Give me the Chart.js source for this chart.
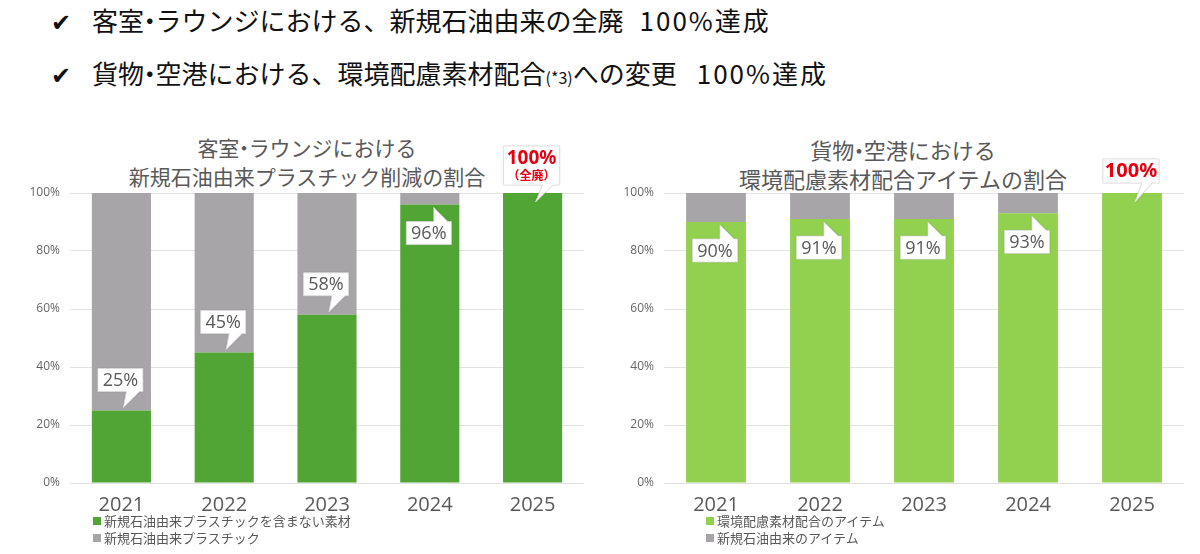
<!DOCTYPE html>
<html><head><meta charset="utf-8">
<script src="https://cdn.jsdelivr.net/npm/chart.js@4"></script>
<style>
html,body{margin:0;padding:0;background:#fff;width:1200px;height:554px;overflow:hidden;font-family:"Noto Sans CJK JP","Noto Sans",sans-serif;}
.hdr{position:absolute;left:51px;font-size:26px;font-weight:400;color:#111;white-space:nowrap;line-height:32px;}
.hdr .ck{display:inline-block;width:41px;font-family:"DejaVu Sans";font-size:24px;font-weight:bold;}
.hdr .sm{font-size:16px;}
.hdr .big{margin-left:16px;letter-spacing:2px;}
.dot{margin-left:-0.28em;margin-right:-0.28em;}
.ttl{position:absolute;text-align:center;color:#595959;font-size:21px;line-height:29px;white-space:nowrap;}
.lg{position:absolute;font-size:13px;color:#595959;line-height:17px;white-space:nowrap;}
.lg span.sq{display:inline-block;width:8px;height:8px;margin-right:3px;vertical-align:1px;}
.cv{position:absolute;}
</style></head>
<body>
<div class="hdr" style="top:4px"><span class="ck">✔</span>客室<span class="dot">・</span>ラウンジにおける、新規石油由来の全廃<span class="big">100%達成</span></div>
<div class="hdr" style="top:57px"><span class="ck">✔</span>貨物<span class="dot">・</span>空港における、環境配慮素材配合<span class="sm">(*3)</span>への変更<span class="big" style="margin-left:20px">100%達成</span></div>

<div class="ttl" style="left:107px;width:400px;top:133px">客室<span class="dot">・</span>ラウンジにおける<br>新規石油由来プラスチック削減の割合</div>
<div class="ttl" style="left:703px;width:400px;top:135px;font-size:22px">貨物<span class="dot">・</span>空港における<br>環境配慮素材配合アイテムの割合</div>

<div class="cv" style="left:0;top:130px;width:600px;height:385px"><canvas id="c1"></canvas></div>
<div class="cv" style="left:600px;top:130px;width:600px;height:385px"><canvas id="c2"></canvas></div>

<div class="lg" id="lg1" style="left:93px;top:512px"></div>
<div class="lg" id="lg2" style="left:706px;top:512px"></div>

<script>
const years = ['2021','2022','2023','2024','2025'];
const yTicks = [0,20,40,60,80,100];

const leftSeriesNames = ['新規石油由来プラスチックを含まない素材','新規石油由来プラスチック'];
const leftFree = [25,45,58,96,100];
const leftPlastic = [75,55,42,4,0];

const rightSeriesNames = ['環境配慮素材配合のアイテム','新規石油由来のアイテム'];
const rightEco = [90,91,91,93,100];
const rightPlastic = [10,9,9,7,0];

const leftColors = ['#50a534','#a7a5a7'];
const rightColors = ['#92d050','#a7a5a7'];

const leftCallouts = [
  {index:0,mode:'above'},{index:1,mode:'above'},{index:2,mode:'above'},
  {index:3,mode:'below'},{index:4,mode:'final',sub:'（全廃）'}
];
const rightCallouts = [
  {index:0,mode:'below'},{index:1,mode:'below'},{index:2,mode:'below'},
  {index:3,mode:'below'},{index:4,mode:'final'}
];

const calloutPlugin = {
  id:'callouts',
  afterDatasetsDraw(chart, args, opts){
    const ctx = chart.ctx;
    const meta = chart.getDatasetMeta(0);
    const ys = chart.scales.y;
    ctx.save();
    opts.items.forEach(it=>{
      const v = chart.data.datasets[0].data[it.index];
      const cx = meta.data[it.index].x;
      const top = ys.getPixelForValue(v);
      const label = v + '%';
      let w=45,h=23,x0,y0,path=[];
      if(it.mode==='above'){
        y0 = top-19-h; x0 = cx-w/2-1;
        path=[[x0,y0],[x0+w,y0],[x0+w,y0+h],[cx+18,y0+h],[cx+2,top-3],[cx+5,y0+h],[x0,y0+h]];
      } else if(it.mode==='below'){
        y0 = top+17; x0 = cx-w/2-1;
        path=[[x0,y0],[cx+4,y0],[cx+4,top+3],[cx+18,y0],[x0+w,y0],[x0+w,y0+h],[x0,y0+h]];
      } else {
        w=56; h = it.sub?39:24;
        y0 = top-(it.sub?8:10)-h; x0 = cx-w/2-1;
        path=[[x0,y0],[x0+w,y0],[x0+w,y0+h],[cx+20,y0+h],[cx+3,top+9],[cx+10,y0+h],[x0,y0+h]];
      }
      ctx.beginPath();
      path.forEach((p,i)=> i?ctx.lineTo(p[0],p[1]):ctx.moveTo(p[0],p[1]));
      ctx.closePath();
      ctx.fillStyle='#ffffff';
      ctx.shadowColor='rgba(0,0,0,0.18)';ctx.shadowBlur=2;
      ctx.fill();
      ctx.shadowColor='transparent';ctx.shadowBlur=0;
      ctx.strokeStyle='#dcdcdc';ctx.lineWidth=0.8;ctx.stroke();
      ctx.textAlign='center';ctx.textBaseline='middle';
      if(it.mode==='final'){
        ctx.fillStyle='#e60012';
        ctx.font='bold '+(it.sub?19:20)+'px "Noto Sans","Noto Sans CJK JP"';
        ctx.fillText(label,x0+w/2,y0+(it.sub?13:12.5));
        if(it.sub){ctx.font='bold 12px "Noto Sans CJK JP"';ctx.fillText(it.sub,x0+w/2,y0+29);}
      } else {
        ctx.fillStyle='#595959';
        ctx.font='18px "Open Sans"';
        ctx.fillText(label,x0+w/2,y0+h/2+1);
      }
    });
    ctx.restore();
  }
};

function makeChart(id, names, s1, s2, colors, callouts, yW){
  return new Chart(document.getElementById(id),{
    type:'bar',
    data:{labels:years,datasets:[
      {label:names[0],data:s1,backgroundColor:colors[0],borderWidth:0},
      {label:names[1],data:s2,backgroundColor:colors[1],borderWidth:0}
    ]},
    options:{
      responsive:true,maintainAspectRatio:false,animation:false,
      devicePixelRatio:1,
      layout:{padding:{left:0,right:16,top:63,bottom:0}},
      datasets:{bar:{categoryPercentage:1,barPercentage:0.575}},
      plugins:{legend:{display:false},tooltip:{enabled:false},callouts:{items:callouts}},
      scales:{
        x:{stacked:true,grid:{display:false},border:{display:false},
           ticks:{color:'#595959',font:{family:'"Open Sans"',size:20},padding:2},
           afterFit(s){s.height=32;}},
        y:{stacked:true,min:0,max:100,
           afterBuildTicks(s){s.ticks=yTicks.map(v=>({value:v}));},
           grid:{color:'#e2e2e2',drawTicks:false,lineWidth:1},border:{display:false},
           ticks:{color:'#666',font:{family:'"Open Sans"',size:12},padding:10,callback:v=>v+'%'},
           afterFit(s){s.width=yW;}}
      }
    },
    plugins:[calloutPlugin]
  });
}
makeChart('c1',leftSeriesNames,leftFree,leftPlastic,leftColors,leftCallouts,70);
makeChart('c2',rightSeriesNames,rightEco,rightPlastic,rightColors,rightCallouts,64);

function legend(id,names,colors){
  document.getElementById(id).innerHTML = names.map((n,i)=>
    '<div><span class="sq" style="background:'+colors[i]+'"></span>'+n+'</div>').join('');
}
legend('lg1',leftSeriesNames,leftColors);
legend('lg2',rightSeriesNames,rightColors);
</script>
</body></html>
